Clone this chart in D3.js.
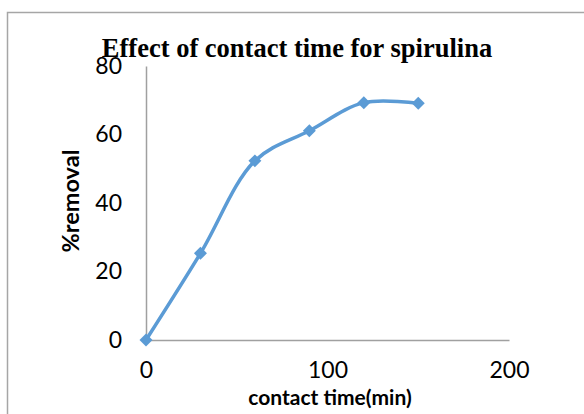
<!DOCTYPE html>
<html>
<head>
<meta charset="utf-8">
<script src="https://cdnjs.cloudflare.com/ajax/libs/d3/7.8.5/d3.min.js"></script>
<style>
  body { margin: 0; background: #fff; }
  svg { display: block; }
</style>
</head>
<body>
<div class="container"></div>
<script>

var times = [0, 30, 60, 90, 120, 150];          // contact time (min)
var removal = [0, 25.3, 52.3, 61.1, 69.3, 69.1]; // % removal
var xTicks = [0, 100, 200];
var yTicks = [0, 20, 40, 60, 80];

var W = 584, H = 414;

var svg = d3.select(".container")
			.append("svg")
			.attr("width", W)
			.attr("height", H);

// chart frame (runs off the right and bottom of the picture)
svg.append("rect")
   .attr("x", 7.5)
   .attr("y", 12.5)
   .attr("width", W)
   .attr("height", H)
   .style("fill", "none")
   .style("stroke", "#a6a6a6")
   .style("stroke-width", "1.5px");

var x = d3.scaleLinear().domain([0, 200]).range([146, 509]);
var y = d3.scaleLinear().domain([0, 80]).range([340, 66]);

// axes, no tick marks, grey lines
var xAxis = svg.append("g")
			   .attr("transform", "translate(0," + y(0) + ")")
			   .call(d3.axisBottom(x).tickValues(xTicks).tickSize(0).tickPadding(22));
var yAxis = svg.append("g")
			   .attr("transform", "translate(" + x(0) + ",0)")
			   .call(d3.axisLeft(y).tickValues(yTicks).tickSize(0).tickPadding(24));

[xAxis, yAxis].forEach(function (ax) {
	ax.select(".domain").style("stroke", "#a0a0a0").style("stroke-width", "1.5px");
	ax.selectAll("text")
	  .style("font-family", "Lato, 'Open Sans', sans-serif")
	  .style("font-size", "23px")
	  .style("fill", "#000");
});

// data
var pts = times.map(function (t, i) { return [t, removal[i]]; });

var line = d3.line()
			 .x(function (d) { return x(d[0]); })
			 .y(function (d) { return y(d[1]); })
			 .curve(d3.curveCatmullRom.alpha(0.5));

svg.append("path")
   .datum(pts)
   .attr("d", line)
   .style("fill", "none")
   .style("stroke", "#5b9bd5")
   .style("stroke-width", "3.5px");

svg.selectAll(".marker")
   .data(pts)
   .enter()
   .append("path")
   .attr("class", "marker")
   .attr("d", d3.symbol().type(d3.symbolSquare).size(84))
   .attr("transform", function (d) { return "translate(" + x(d[0]) + "," + y(d[1]) + ") rotate(45)"; })
   .style("fill", "#5b9bd5");

// titles
svg.append("text")
   .attr("x", 297)
   .attr("y", 57)
   .attr("text-anchor", "middle")
   .style("font-family", "'Liberation Serif', 'Times New Roman', serif")
   .style("font-weight", "bold")
   .style("font-size", "26.5px")
   .text("Effect of contact time for spirulina");

svg.append("text")
   .attr("x", 330)
   .attr("y", 405)
   .attr("text-anchor", "middle")
   .style("font-family", "Lato, 'Open Sans', sans-serif")
   .style("font-weight", "bold")
   .style("font-size", "21px")
   .text("contact time(min)");

svg.append("text")
   .attr("transform", "translate(79,201) rotate(-90)")
   .attr("text-anchor", "middle")
   .style("font-family", "Lato, 'Open Sans', sans-serif")
   .style("font-weight", "bold")
   .style("font-size", "23.5px")
   .text("%removal");

</script>
</body>
</html>
